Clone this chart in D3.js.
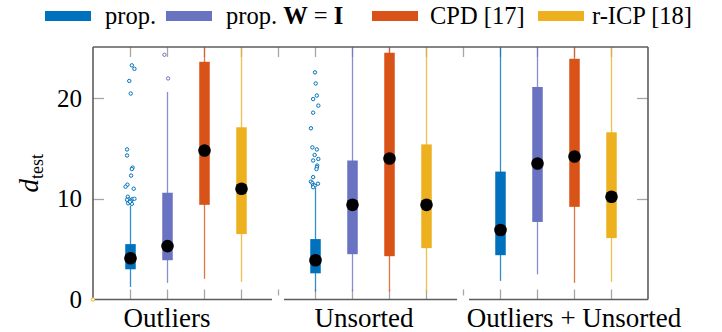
<!DOCTYPE html>
<html>
<head>
<meta charset="utf-8">
<script src="https://cdn.jsdelivr.net/npm/d3@7"></script>
<style>
  body { margin: 0; background: #fff; }
  svg text { font-family: "Liberation Serif", "DejaVu Serif", serif; }
</style>
</head>
<body>
<div id="chart"></div>
<script>
// groups on the x axis, methods inside each group
var groups = ["Outliers", "Unsorted", "Outliers + Unsorted"];
var methods = ["prop.", "prop. W = I", "CPD [17]", "r-ICP [18]"];
var colors = ["#0072bd", "#6a72c2", "#d95319", "#edb120"];
var yTicks = [0, 10, 20];

// box statistics, one row per group, one column per method
var medians = [[4.1, 5.3, 14.8, 11.0], [3.9, 9.4, 14.0, 9.4], [6.9, 13.5, 14.2, 10.2]];
var q1 = [[3.0, 3.9, 9.4, 6.5], [2.6, 4.5, 4.3, 5.1], [4.4, 7.7, 9.2, 6.1]];
var q3 = [[5.5, 10.6, 23.6, 17.1], [6.0, 13.8, 24.5, 15.4], [12.7, 21.1, 23.9, 16.6]];
var whiskerLow = [[1.25, 1.65, 2.05, 1.75], [0.8, 0.8, 0.8, 0.8], [1.85, 2.5, 1.65, 1.75]];
var whiskerHigh = [[9.3, 20.6, 26, 26], [11.1, 26, 26, 26], [26, 26, 26, 26]];

// outliers: [offset in category units, value]
var outliersOutliersProp = [[0.05, 23.25], [0.12, 22.9], [-0.02, 21.7], [0.02, 20.45],
  [-0.08, 14.9], [-0.08, 14.3], [0.07, 13.1], [0.05, 12.95], [0.03, 12.3],
  [-0.07, 11.4], [-0.12, 11.2], [0.1, 11.0], [-0.06, 10.2], [-0.03, 9.95],
  [-0.08, 9.9], [0.06, 9.95], [0.12, 10.0], [0.02, 9.8], [-0.05, 9.55], [0.05, 9.5], [0.0, 9.7]];
var outliersOutliersPropWI = [[-0.07, 24.3], [0.03, 21.95]];
var outliersUnsortedProp = [[0.0, 22.55], [0.02, 21.45], [0.05, 20.25], [-0.05, 19.9],
  [0.09, 19.25], [-0.05, 18.55], [-0.11, 17.0], [-0.07, 15.1], [0.05, 14.9], [-0.01, 14.35],
  [0.09, 13.95], [-0.05, 13.8], [0.06, 13.3], [0.05, 13.15], [0.04, 12.95], [-0.05, 12.15],
  [-0.11, 11.7], [-0.07, 11.55], [-0.05, 11.35], [-0.01, 11.3], [0.08, 11.5], [-0.05, 11.15]];
var strayPoint = [0, 0];

var width = 722, height = 332;
var plotLeft = 93, panelW = 185, plotTop = 47, plotBottom = 299.5;

var svg = d3.select("#chart").append("svg")
  .attr("width", width)
  .attr("height", height);

var y = d3.scaleLinear().domain([0, 25.07]).range([plotBottom, plotTop]);
var xs = groups.map(function(g, i) {
  return d3.scaleLinear().domain([0, 5]).range([plotLeft + i * panelW, plotLeft + (i + 1) * panelW]);
});
var plotRight = plotLeft + 3 * panelW;

svg.append("clipPath").attr("id", "plot")
  .append("rect").attr("x", plotLeft).attr("y", plotTop)
  .attr("width", plotRight - plotLeft).attr("height", plotBottom - plotTop);

var tickColor = "#a6a6a6";
var axisColor = "#5c5c5c";

// tick marks along top and bottom
groups.forEach(function(g, gi) {
  var x = xs[gi];
  methods.forEach(function(m, mi) {
    var cx = Math.round(x(mi + 1)) + 0.5;
    svg.append("line").attr("x1", cx).attr("x2", cx).attr("y1", plotBottom - 10).attr("y2", plotBottom)
      .attr("stroke", tickColor).attr("stroke-width", 1.3);
    svg.append("line").attr("x1", cx).attr("x2", cx).attr("y1", plotTop).attr("y2", plotTop + 10)
      .attr("stroke", tickColor).attr("stroke-width", 1.3);
  });
  if (gi > 0) {
    var bx = Math.round(x(0)) + 0.5;
    svg.append("line").attr("x1", bx).attr("x2", bx).attr("y1", plotTop).attr("y2", plotTop + 10)
      .attr("stroke", tickColor).attr("stroke-width", 1.3);
    svg.append("line").attr("x1", bx).attr("x2", bx).attr("y1", plotBottom - 10).attr("y2", plotBottom - 4)
      .attr("stroke", tickColor).attr("stroke-width", 1.3);
  }
});
yTicks.slice(1).forEach(function(t) {
  var ty = Math.round(y(t)) + 0.5;
  svg.append("line").attr("x1", plotLeft).attr("x2", plotLeft + 11).attr("y1", ty).attr("y2", ty)
    .attr("stroke", tickColor).attr("stroke-width", 1.3);
  svg.append("line").attr("x1", plotRight - 11).attr("x2", plotRight).attr("y1", ty).attr("y2", ty)
    .attr("stroke", tickColor).attr("stroke-width", 1.3);
});

// boxes
var plot = svg.append("g").attr("clip-path", "url(#plot)");
var boxW = 10.5;
groups.forEach(function(g, gi) {
  var x = xs[gi];
  methods.forEach(function(m, mi) {
    var cx = Math.round(x(mi + 1)) + 0.5;
    plot.append("line")
      .attr("x1", cx).attr("x2", cx)
      .attr("y1", y(whiskerLow[gi][mi])).attr("y2", y(whiskerHigh[gi][mi]))
      .attr("stroke", colors[mi]).attr("stroke-width", 1.3).attr("opacity", 0.8);
    plot.append("rect")
      .attr("x", cx - boxW / 2).attr("width", boxW)
      .attr("y", y(q3[gi][mi])).attr("height", y(q1[gi][mi]) - y(q3[gi][mi]))
      .attr("fill", colors[mi]);
  });
});

function drawOutliers(pts, gi, mi) {
  plot.selectAll(null).data(pts).enter().append("circle")
    .attr("cx", function(d) { return xs[gi](mi + 1 + d[0]); })
    .attr("cy", function(d) { return y(d[1]); })
    .attr("r", 1.7)
    .attr("fill", "#fff")
    .attr("stroke", colors[mi])
    .attr("stroke-width", 1);
}
drawOutliers(outliersOutliersProp, 0, 0);
drawOutliers(outliersOutliersPropWI, 0, 1);
drawOutliers(outliersUnsortedProp, 1, 0);

// medians
groups.forEach(function(g, gi) {
  methods.forEach(function(m, mi) {
    plot.append("circle")
      .attr("cx", Math.round(xs[gi](mi + 1)) + 0.5)
      .attr("cy", y(medians[gi][mi]))
      .attr("r", 6.3)
      .attr("fill", "#000");
  });
});

// axis lines
svg.append("line").attr("x1", plotLeft).attr("x2", plotRight).attr("y1", plotTop).attr("y2", plotTop)
  .attr("stroke", axisColor).attr("stroke-width", 1.6);
svg.append("line").attr("x1", plotLeft).attr("x2", plotLeft).attr("y1", plotTop).attr("y2", plotBottom)
  .attr("stroke", axisColor).attr("stroke-width", 1.6);
svg.append("line").attr("x1", plotRight).attr("x2", plotRight).attr("y1", plotTop).attr("y2", plotBottom)
  .attr("stroke", axisColor).attr("stroke-width", 1.6);
groups.forEach(function(g, gi) {
  var x0 = gi === 0 ? xs[gi](0) : xs[gi](0) + 6;
  var x1 = gi === 2 ? xs[gi](5) : xs[gi](5) - 6;
  svg.append("line").attr("x1", x0).attr("x2", x1).attr("y1", plotBottom).attr("y2", plotBottom)
    .attr("stroke", axisColor).attr("stroke-width", 1.6);
});

svg.append("circle")
  .attr("cx", xs[0](strayPoint[0])).attr("cy", y(strayPoint[1]))
  .attr("r", 1.7).attr("fill", "#fff").attr("stroke", colors[3]).attr("stroke-width", 1);

// y tick labels
svg.selectAll(".ylab").data(yTicks).enter().append("text")
  .attr("x", 82)
  .attr("y", function(d) { return y(d) + 8.5; })
  .attr("text-anchor", "end")
  .attr("font-size", 25)
  .text(function(d) { return d; });

// y axis title
var yt = svg.append("text")
  .attr("transform", "translate(38," + ((plotTop + plotBottom) / 2) + ") rotate(-90)")
  .attr("text-anchor", "middle")
  .attr("font-size", 27);
yt.append("tspan").attr("font-style", "italic").text("d");
yt.append("tspan").attr("font-size", 18).attr("dy", 5).text("test");

// group labels
var groupLabelX = [167, 364, 574];
svg.selectAll(".glab").data(groups).enter().append("text")
  .attr("x", function(d, i) { return groupLabelX[i]; })
  .attr("y", 327)
  .attr("text-anchor", "middle")
  .attr("font-size", 27)
  .text(function(d) { return d; });

// legend
var legendX = [45, 166, 372, 538];
var legendTextDx = [60, 60, 58, 54];
methods.forEach(function(m, mi) {
  var lg = svg.append("g").attr("transform", "translate(" + legendX[mi] + ",0)");
  lg.append("rect").attr("x", 0).attr("y", 11).attr("width", 46).attr("height", 10)
    .attr("fill", colors[mi]);
  var t = lg.append("text").attr("x", legendTextDx[mi]).attr("y", 24).attr("font-size", 24.5);
  if (mi === 1) {
    t.append("tspan").text("prop. ");
    t.append("tspan").attr("font-weight", "bold").text("W");
    t.append("tspan").text(" = ");
    t.append("tspan").attr("font-weight", "bold").text("I");
  } else {
    t.text(m);
  }
});
</script>
</body>
</html>
